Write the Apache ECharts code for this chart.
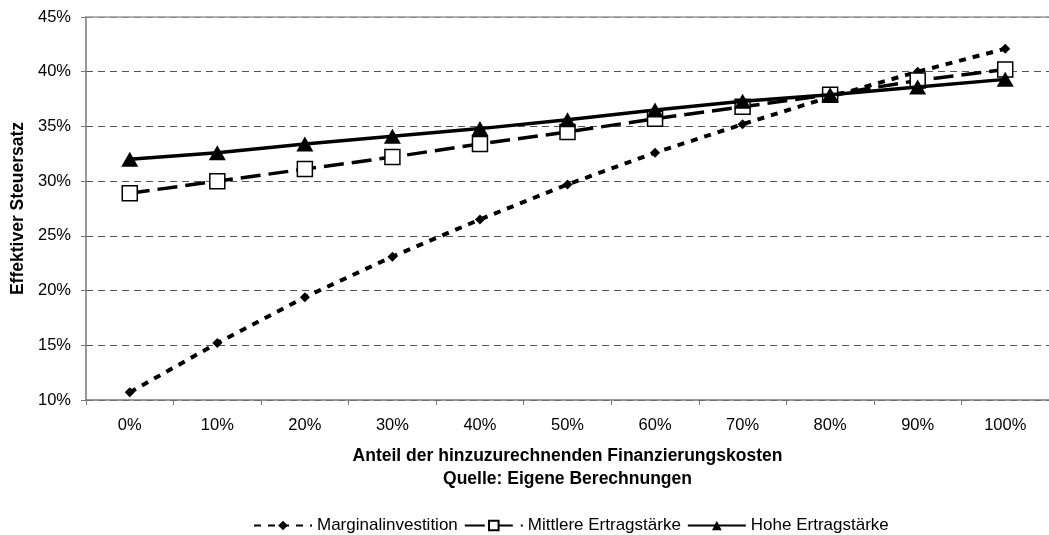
<!DOCTYPE html>
<html>
<head>
<meta charset="utf-8">
<script src="https://cdn.jsdelivr.net/npm/echarts@6/dist/echarts.min.js"></script>
<style>
html,body{margin:0;padding:0;background:#fff;}
#chart{width:1049px;height:535px;}
</style>
</head>
<body>
<div id="chart"></div>
<script>
const categories = ['0%','10%','20%','30%','40%','50%','60%','70%','80%','90%','100%'];
const marginalinvestition = [10.7, 15.2, 19.4, 23.1, 26.5, 29.7, 32.6, 35.2, 37.7, 40.0, 42.1];
const mittlereErtragstaerke = [28.9, 30.0, 31.1, 32.2, 33.4, 34.5, 35.7, 36.8, 37.9, 39.2, 40.2];
const hoheErtragstaerke = [32.0, 32.6, 33.4, 34.1, 34.8, 35.6, 36.5, 37.3, 37.9, 38.6, 39.3];
const yTicks = {min: 10, max: 45, interval: 5};

const FONT = "'Liberation Sans', Arial, sans-serif";
const chart = echarts.init(document.getElementById('chart'), null, {renderer: 'canvas'});
chart.setOption({
  animation: false,
  backgroundColor: '#fff',
  textStyle: {fontFamily: FONT, color: '#000'},
  grid: {left: 86, right: -5, top: 17, bottom: 135, containLabel: false},
  legend: {
    left: 248, top: 512,
    itemWidth: 58, itemHeight: 12, itemGap: 6,
    textStyle: {fontFamily: FONT, fontSize: 17, color: '#000'},
    data: ['Marginalinvestition', 'Mittlere Ertragstärke', 'Hohe Ertragstärke']
  },
  xAxis: [{
    type: 'category',
    data: categories,
    boundaryGap: true,
    axisLine: {show: true, lineStyle: {color: '#777', width: 1.5}},
    axisTick: {show: true, length: 5, alignWithLabel: false, lineStyle: {color: '#777'}},
    axisLabel: {fontFamily: FONT, fontSize: 16.5, color: '#000', margin: 17, interval: 0},
    splitLine: {show: false},
    name: 'Anteil der hinzuzurechnenden Finanzierungskosten\nQuelle: Eigene Berechnungen',
    nameLocation: 'middle',
    nameGap: 45,
    nameTextStyle: {fontFamily: FONT, fontSize: 17.5, fontWeight: 'bold', color: '#000', lineHeight: 22.5}
  }, {
    type: 'category',
    data: categories,
    position: 'top',
    axisLine: {show: true, lineStyle: {color: '#999', width: 1.5}},
    axisTick: {show: false},
    axisLabel: {show: false},
    splitLine: {show: false}
  }],
  yAxis: {
    type: 'value',
    min: yTicks.min, max: yTicks.max, interval: yTicks.interval,
    axisLine: {show: true, lineStyle: {color: '#777', width: 1.5}},
    axisTick: {show: true, length: 5, lineStyle: {color: '#777'}},
    axisLabel: {fontFamily: FONT, fontSize: 16.5, color: '#000', margin: 15, formatter: '{value}%'},
    splitLine: {show: true, lineStyle: {color: '#555', type: [7, 5], width: 1}},
    name: 'Effektiver Steuersatz',
    nameLocation: 'middle',
    nameGap: 55,
    nameTextStyle: {fontFamily: FONT, fontSize: 17.5, fontWeight: 'bold', color: '#000'}
  },
  series: [{
    name: 'Marginalinvestition',
    type: 'line',
    data: marginalinvestition,
    symbol: 'diamond', symbolSize: 10,
    itemStyle: {color: '#000'},
    lineStyle: {color: '#000', width: 4, type: [7, 7]},
    z: 2
  }, {
    name: 'Mittlere Ertragstärke',
    type: 'line',
    data: mittlereErtragstaerke,
    symbol: 'rect', symbolSize: 15,
    itemStyle: {color: '#fff', borderColor: '#000', borderWidth: 1.5},
    lineStyle: {color: '#000', width: 3.5, type: [20, 8]},
    z: 3
  }, {
    name: 'Hohe Ertragstärke',
    type: 'line',
    data: hoheErtragstaerke,
    symbol: 'triangle', symbolSize: [17, 15],
    itemStyle: {color: '#000'},
    lineStyle: {color: '#000', width: 3.5, type: 'solid'},
    z: 4
  }]
});
</script>
</body>
</html>
